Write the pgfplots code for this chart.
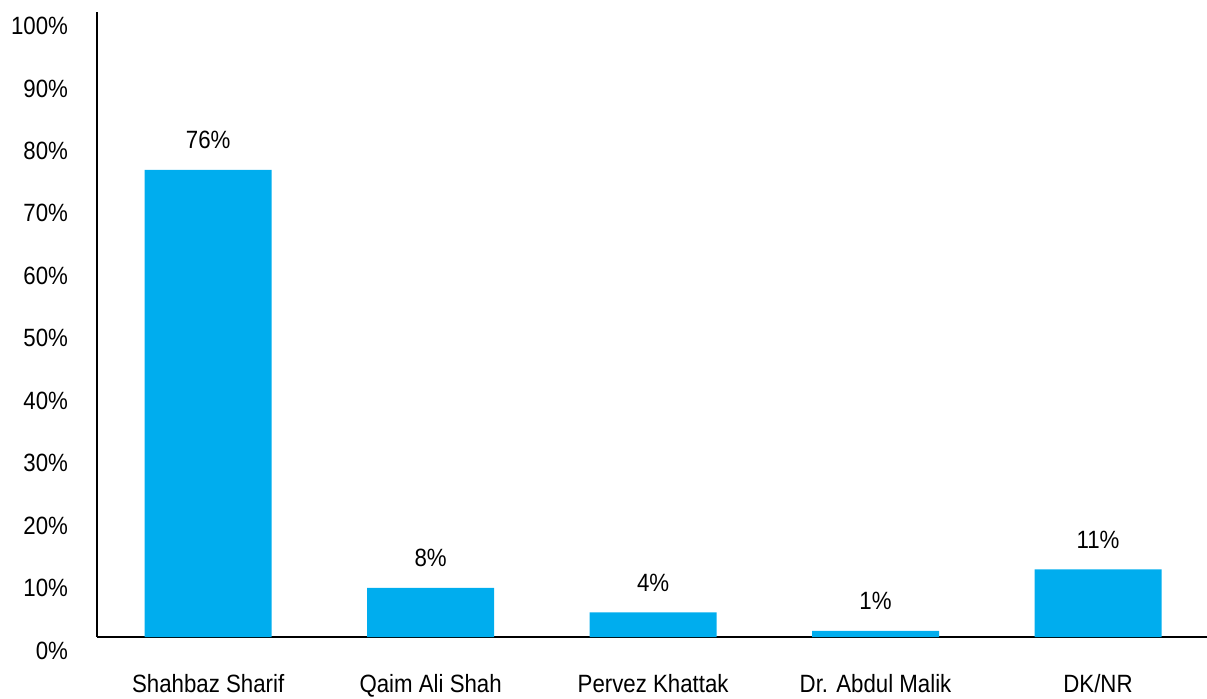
\documentclass[border=0pt]{standalone}
\usepackage{pgfplots}
\pgfplotsset{compat=1.18}
\usepackage{fontspec}
\setmainfont{Liberation Sans}[FakeStretch=0.89]
\definecolor{barblue}{HTML}{00ADEE}

\begin{document}
\begin{tikzpicture}
\begin{axis}[
    name=ax,
    scale only axis,
    width=555pt, height=312.5pt,
    xmin=-0.5, xmax=4.49,
    ymin=0, ymax=101.7,
    axis lines=left,
    axis line style={-, line width=1pt},
    ybar, bar width=63.5pt,
    major tick length=0pt,
    xtick=data,
    xticklabels={Shahbaz Sharif, Qaim Ali Shah, Pervez Khattak, Dr. Abdul Malik, DK/NR},
    % label positions sit on a slightly wider spacing than the bars
    ytick={0,10.16,20.32,30.48,40.64,50.8,60.96,71.12,81.28,91.44,101.6},
    yticklabels={0\%,10\%,20\%,30\%,40\%,50\%,60\%,70\%,80\%,90\%,100\%},
    every tick label/.append style={font=\fontsize{12.5}{14}\selectfont},
    xticklabel style={anchor=base, yshift=-27.5pt},
    yticklabel style={anchor=base east, xshift=-11pt, yshift=-11pt},
    nodes near coords={\pgfmathprintnumber{\pgfplotspointmeta}\%},
    nodes near coords style={anchor=base, yshift=10.5pt, font=\fontsize{12.5}{14}\selectfont},
    /pgf/number format/assume math mode=true,
    clip=false,
]
\addplot[fill=barblue, draw=none] coordinates {
    (0,76) (1,8) (2,4) (3,1) (4,11)
};
\end{axis}
\pgfresetboundingbox
\path[use as bounding box] ([xshift=-48.5pt,yshift=-30.5pt]ax.south west) rectangle ([yshift=6pt]ax.north east);
\end{tikzpicture}
\end{document}
